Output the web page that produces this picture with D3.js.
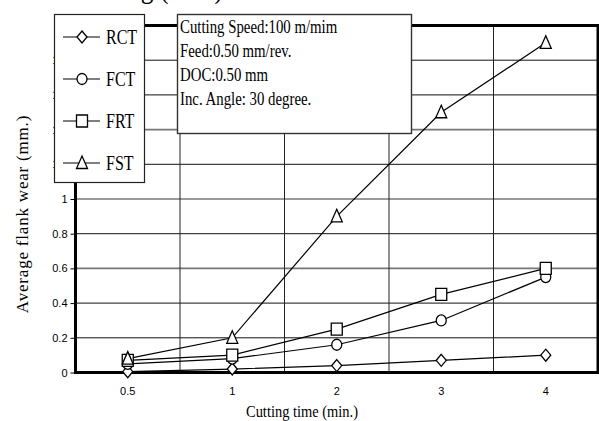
<!DOCTYPE html>
<html>
<head>
<meta charset="utf-8">
<script src="https://d3js.org/d3.v7.min.js"></script>
<style>
  body { margin: 0; background: #fff; }
  svg { display: block; }
</style>
</head>
<body>
<svg id="chart" width="599" height="421"></svg>
<script>
// data
const times = ['0.5', '1', '2', '3', '4'];
const seriesNames = ['RCT', 'FCT', 'FRT', 'FST'];
const rct = [0.005, 0.02, 0.04, 0.07, 0.10];
const fct = [0.05, 0.08, 0.16, 0.30, 0.55];
const frt = [0.07, 0.10, 0.25, 0.45, 0.60];
const fst = [0.08, 0.20, 0.90, 1.50, 1.90];
const yTicks = [0, 0.2, 0.4, 0.6, 0.8, 1, 1.2, 1.4, 1.6, 1.8, 2];
const infoLines = ['Cutting Speed:100 m/mim', 'Feed:0.50 mm/rev.', 'DOC:0.50 mm', 'Inc. Angle: 30 degree.'];
const titleText = 'Flank wear vs. cutting (min.)';

const svg = d3.select('#chart');
const DIM = { left: 75.5, right: 598, top: 25.5, bottom: 372.5 };
const serif = '"Liberation Serif", "Times New Roman", serif';
const sans = '"Liberation Sans", Arial, sans-serif';

const xScale = d3.scaleBand().domain(times).range([DIM.left, DIM.right]);
const yScale = d3.scaleLinear().domain([0, 2]).range([DIM.bottom, DIM.top]);
const xc = (d) => xScale(d) + xScale.bandwidth() / 2;

// squeeze text horizontally, the scanned figure uses a narrow Times
function condense(sel, k) {
  sel.each(function () {
    const w = this.getComputedTextLength();
    d3.select(this).attr('textLength', w * k).attr('lengthAdjust', 'spacingAndGlyphs');
  });
}

// marker shapes, centered at 0,0
const shapes = {
  RCT: 'M0,-6L5,0L0,6L-5,0Z',
  FCT: null,
  FRT: 'M-5.5,-6H5.5V6H-5.5Z',
  FST: 'M0,-7L5.5,5.5H-5.5Z'
};
function drawMarker(g, name, x, y) {
  if (name === 'FCT') {
    g.append('ellipse').attr('cx', x).attr('cy', y).attr('rx', 5).attr('ry', 5.5)
      .attr('fill', '#fff').attr('stroke', '#000').attr('stroke-width', 1.3);
  } else {
    g.append('path').attr('d', shapes[name]).attr('transform', `translate(${x},${y})`)
      .attr('fill', '#fff').attr('stroke', '#000').attr('stroke-width', 1.3);
  }
}

// clipped title at the very top
svg.append('text')
  .attr('x', 223).attr('y', -2)
  .attr('text-anchor', 'end')
  .attr('font-family', serif).attr('font-size', 30)
  .text(titleText)
  .call(condense, 0.85);

// gridlines (a few come out grey and heavier in the scan)
const greyLines = [0.6, 1, 1.4];
const isGrey = (d) => greyLines.some((g) => Math.abs(g - d) < 1e-6);
const grid = svg.append('g').attr('id', 'grid');
grid.selectAll('.hgrid')
  .data(yTicks.filter((d) => d > 0 && d < 2))
  .join('line')
  .attr('x1', DIM.left).attr('x2', DIM.right)
  .attr('y1', (d) => yScale(d)).attr('y2', (d) => yScale(d))
  .attr('stroke', (d) => (isGrey(d) ? '#777' : '#111'))
  .attr('stroke-width', (d) => (isGrey(d) ? 1.6 : 1));
grid.selectAll('.vgrid')
  .data(times.slice(1))
  .join('line')
  .attr('x1', (d) => xScale(d)).attr('x2', (d) => xScale(d))
  .attr('y1', DIM.top).attr('y2', DIM.bottom)
  .attr('stroke', '#222').attr('stroke-width', 1);

// y axis
const yAxis = svg.append('g').attr('id', 'y-axis')
  .attr('transform', `translate(${DIM.left},0)`)
  .call(d3.axisLeft(yScale).tickValues(yTicks).tickSize(5).tickPadding(3)
    .tickFormat((d) => String(Math.round(d * 10) / 10)));
yAxis.select('.domain').remove();
yAxis.selectAll('text').attr('font-family', sans).attr('font-size', 11).attr('fill', '#000');
yAxis.selectAll('line').attr('stroke', '#000');

// x axis labels
const xAxis = svg.append('g').attr('id', 'x-axis')
  .attr('transform', `translate(0,${DIM.bottom})`)
  .call(d3.axisBottom(xScale).tickSize(0).tickPadding(15));
xAxis.select('.domain').remove();
xAxis.selectAll('text').attr('font-family', sans).attr('font-size', 11).attr('fill', '#000');

// thick frame
svg.append('rect')
  .attr('x', DIM.left).attr('y', DIM.top)
  .attr('width', DIM.right - DIM.left).attr('height', DIM.bottom - DIM.top)
  .attr('fill', 'none').attr('stroke', '#000').attr('stroke-width', 3);

// series
const lineGenerator = d3.line().x((d, i) => xc(times[i])).y((d) => yScale(d));
const allSeries = [rct, fct, frt, fst];
const lines = svg.append('g').attr('id', 'lines');
allSeries.forEach((vals) => {
  lines.append('path')
    .datum(vals)
    .attr('d', lineGenerator)
    .attr('fill', 'none').attr('stroke', '#000').attr('stroke-width', 1.2);
});
allSeries.forEach((vals, k) => {
  vals.forEach((v, i) => drawMarker(lines, seriesNames[k], xc(times[i]), yScale(v)));
});

// legend box
const legend = svg.append('g').attr('id', 'legend');
legend.append('rect')
  .attr('x', 54.5).attr('y', 14.5).attr('width', 90).attr('height', 168)
  .attr('fill', '#fff').attr('stroke', '#222').attr('stroke-width', 1.2);
seriesNames.forEach((name, i) => {
  const cy = 37 + i * 42;
  legend.append('line').attr('x1', 63).attr('x2', 100).attr('y1', cy).attr('y2', cy)
    .attr('stroke', '#000').attr('stroke-width', 1.2);
  drawMarker(legend, name, 82, cy);
  legend.append('text')
    .attr('x', 106).attr('y', cy + 6.5)
    .attr('font-family', serif).attr('font-size', 20)
    .text(name)
    .call(condense, 0.8);
});

// info box
const info = svg.append('g').attr('id', 'info');
info.append('rect')
  .attr('x', 177.5).attr('y', 14.5).attr('width', 234).attr('height', 119)
  .attr('fill', '#fff').attr('stroke', '#333').attr('stroke-width', 1.4);
info.selectAll('text')
  .data(infoLines)
  .join('text')
  .attr('x', 180).attr('y', (d, i) => 33 + i * 24)
  .attr('font-family', serif).attr('font-size', 19)
  .text((d) => d)
  .call(condense, 0.78);

// axis titles
svg.append('text')
  .attr('transform', 'translate(28,214) rotate(-90)')
  .attr('text-anchor', 'middle')
  .attr('font-family', serif).attr('font-size', 17)
  .attr('letter-spacing', 0.8)
  .text('Average flank wear (mm.)');

svg.append('text')
  .attr('x', 302).attr('y', 417)
  .attr('text-anchor', 'middle')
  .attr('font-family', serif).attr('font-size', 17)
  .text('Cutting time (min.)')
  .call(condense, 0.85);
</script>
</body>
</html>
